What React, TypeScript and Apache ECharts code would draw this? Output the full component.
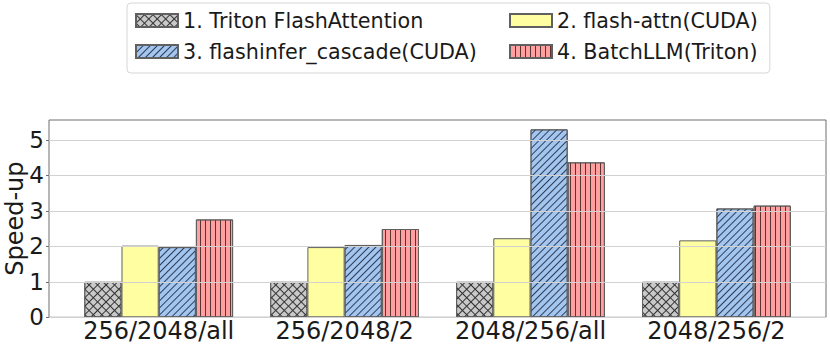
import React, { useEffect, useRef } from "react";
import * as echarts from "echarts";

const categories = ["256/2048/all", "256/2048/2", "2048/256/all", "2048/256/2"];
const seriesNames = [
  "1. Triton FlashAttention",
  "2. flash-attn(CUDA)",
  "3. flashinfer_cascade(CUDA)",
  "4. BatchLLM(Triton)",
];
const tritonFA = [1.0, 1.0, 1.0, 1.0];
const flashAttn = [2.02, 1.98, 2.23, 2.17];
const flashinferCascade = [1.98, 2.04, 5.3, 3.07];
const batchLLM = [2.76, 2.49, 4.37, 3.15];
const yTickMax = 5;

const FONT = "DejaVu Sans";
const EDGE = "#606060";

export default function App() {
  const ref = useRef<HTMLDivElement>(null);
  useEffect(() => {
    document.body.style.margin = "0";
    const chart = echarts.init(ref.current!, null, { renderer: "svg" });

    const grayDecal = {
      symbol: "path://M0 0H6V1H1V6H0Z",
      symbolSize: 1,
      symbolKeepAspect: false,
      dashArrayX: [[6, 0]],
      dashArrayY: [6, 0],
      rotation: Math.PI / 4,
      color: "rgba(25,25,25,0.85)",
    };
    const blueDecal = {
      symbol: "rect",
      symbolSize: 1,
      symbolKeepAspect: false,
      dashArrayX: [[5, 0]],
      dashArrayY: [1, 4],
      rotation: -Math.PI / 4,
      color: "rgba(20,25,45,0.8)",
    };
    const redDecal = {
      symbol: "rect",
      symbolSize: 1,
      symbolKeepAspect: false,
      dashArrayX: [1, 4],
      dashArrayY: [5, 0],
      rotation: 0,
      color: "rgba(50,25,25,0.8)",
    };

    const colors = ["#c9c9c9", "#ffffa1", "#a2c6f0", "#ff9f9f"];
    const decals: any[] = [grayDecal, null, blueDecal, redDecal];
    const values = [tritonFA, flashAttn, flashinferCascade, batchLLM];

    const yZero = 317.3;
    const unit = 35.46;
    const frameTop = 120;
    const dataTop = yZero - yTickMax * unit;
    const bottom = 348 - yZero;

    chart.setOption({
      animation: false,
      grid: [
        { left: 49, right: 4, top: dataTop, bottom, outerBoundsMode: "none", containLabel: false },
        { left: 65.75, right: 20.65, top: dataTop, bottom, outerBoundsMode: "none", containLabel: false },
        {
          left: 49,
          right: 4,
          top: frameTop,
          bottom,
          outerBoundsMode: "none",
          containLabel: false,
          show: true,
          borderColor: "#6e6e6e",
          borderWidth: 1,
          backgroundColor: "transparent",
        },
      ],
      legend: {
        left: 127,
        top: 3,
        width: 650,
        orient: "horizontal",
        icon: "rect",
        itemWidth: 42,
        itemHeight: 13,
        itemGap: 10,
        padding: [7, 12, 11, 8],
        backgroundColor: "#ffffff",
        borderColor: "#d6d6d6",
        borderWidth: 1,
        borderRadius: 4,
        selectedMode: false,
        textStyle: { fontSize: 20.7, fontFamily: FONT, color: "#1a1a1a", lineHeight: 20 },
        data: [
          { name: seriesNames[0], textStyle: { width: 316 } },
          { name: seriesNames[1] },
          { name: seriesNames[2], textStyle: { width: 316 } },
          { name: seriesNames[3] },
        ],
      },
      xAxis: [
        { gridIndex: 0, type: "category", data: categories, show: false },
        {
          gridIndex: 1,
          type: "category",
          data: categories,
          axisLine: { show: false },
          axisTick: { show: false },
          axisLabel: {
            interval: 0,
            fontSize: 24,
            fontFamily: FONT,
            color: "#1a1a1a",
            margin: 2,
          },
        },
        { gridIndex: 2, type: "category", data: categories, show: false },
      ],
      yAxis: [
        {
          gridIndex: 0,
          type: "value",
          min: 0,
          max: yTickMax,
          interval: 1,
          z: 10,
          axisLine: { show: false },
          axisTick: { show: true, length: 3, lineStyle: { color: "#6e6e6e" } },
          axisLabel: { fontSize: 23, fontFamily: FONT, color: "#1a1a1a", margin: 5 },
          splitLine: { show: true, lineStyle: { color: "#d2d2d2", width: 1 } },
        },
        { gridIndex: 1, type: "value", min: 0, max: yTickMax, show: false },
        {
          gridIndex: 2,
          type: "value",
          min: 0,
          max: 1,
          axisLine: { show: false },
          axisTick: { show: false },
          axisLabel: { show: false },
          splitLine: { show: false },
          name: "Speed-up",
          nameLocation: "middle",
          nameGap: 22,
          nameTextStyle: { fontSize: 24, fontFamily: FONT, color: "#1a1a1a" },
        },
      ],
      series: seriesNames.map((name, i) => ({
        name,
        type: "bar",
        xAxisIndex: 1,
        yAxisIndex: 1,
        barWidth: 37.2,
        barGap: "0%",
        clip: false,
        data: values[i],
        itemStyle: {
          color: colors[i],
          borderColor: EDGE,
          borderWidth: 1,
          ...(decals[i] ? { decal: decals[i] } : {}),
        },
      })),
    });
    return () => chart.dispose();
  }, []);
  return <div ref={ref} style={{ width: 830, height: 348 }} />;
}
